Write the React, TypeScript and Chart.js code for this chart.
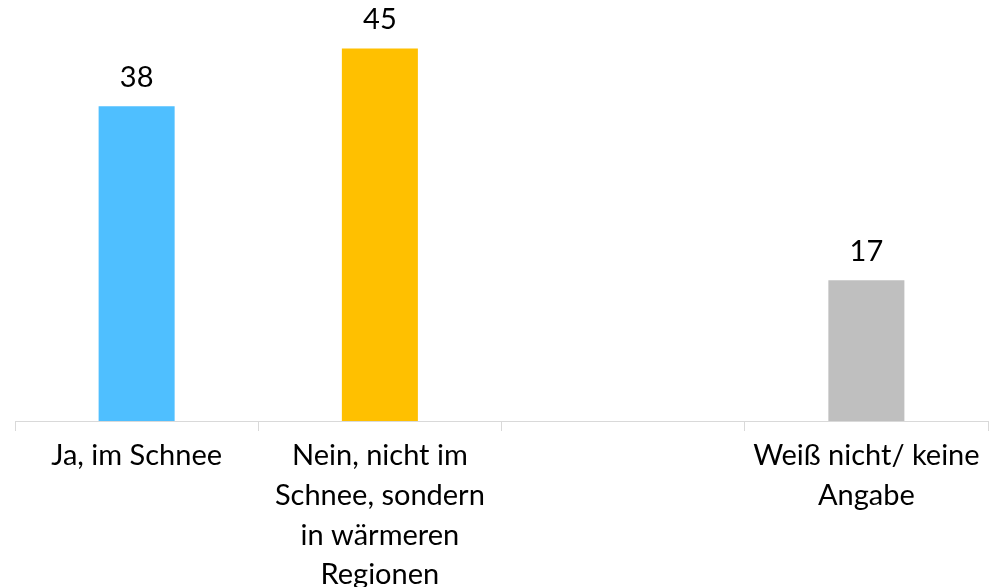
import React, { useEffect, useRef } from "react";
import { Chart, registerables } from "chart.js";

Chart.register(...registerables);

const categories: (string | string[])[] = [
  ["Ja, im Schnee"],
  ["Nein, nicht im", "Schnee, sondern", "in wärmeren", "Regionen"],
  "",
  ["Weiß nicht/ keine", "Angabe"],
];
const values: (number | null)[] = [38, 45, null, 17];
const barColors = ["#4FBFFF", "#FFC000", "#FFFFFF", "#BFBFBF"];
const yMin = 0;
const yMax = 50;

const FONT_FAMILY = "Lato, 'Open Sans', sans-serif";
const FONT_SIZE = 29;

const valueLabels = {
  id: "valueLabels",
  afterDatasetsDraw(chart: any) {
    const ctx = chart.ctx;
    const meta = chart.getDatasetMeta(0);
    ctx.save();
    ctx.font = `${FONT_SIZE}px ${FONT_FAMILY}`;
    ctx.fillStyle = "#000000";
    ctx.textAlign = "center";
    ctx.textBaseline = "alphabetic";
    meta.data.forEach((el: any, i: number) => {
      const v = values[i];
      if (v === null || v === undefined) return;
      ctx.fillText(String(v), el.x, el.y - 19);
    });
    ctx.restore();
  },
};

export default function App() {
  const ref = useRef<HTMLCanvasElement | null>(null);
  useEffect(() => {
    document.body.style.margin = "0";
    if (!ref.current) return;
    const chart = new Chart(ref.current, {
      type: "bar",
      data: {
        labels: categories,
        datasets: [
          {
            data: values,
            backgroundColor: barColors,
            borderWidth: 0,
            barPercentage: 0.3125,
            categoryPercentage: 1,
          },
        ],
      },
      options: {
        animation: false,
        responsive: true,
        maintainAspectRatio: false,
        layout: { padding: { left: 15, right: 1, top: 7, bottom: 0 } },
        plugins: {
          legend: { display: false },
          tooltip: { enabled: false },
          title: { display: false },
        },
        scales: {
          x: {
            offset: true,
            grid: {
              offset: true,
              drawOnChartArea: false,
              drawTicks: true,
              tickLength: 10,
              color: "#D9D9D9",
              lineWidth: 1,
            },
            border: { display: true, color: "#D9D9D9", width: 1 },
            ticks: {
              autoSkip: false,
              maxRotation: 0,
              minRotation: 0,
              padding: 5,
              color: "#000000",
              font: { family: FONT_FAMILY, size: FONT_SIZE, lineHeight: 1.37 },
            },
            afterFit: (scale: any) => {
              scale.height = 166;
            },
          },
          y: {
            display: false,
            min: yMin,
            max: yMax,
          },
        },
      },
      plugins: [valueLabels],
    });
    return () => chart.destroy();
  }, []);
  return (
    <div style={{ position: "relative", width: 989, height: 587 }}>
      <canvas ref={ref} />
    </div>
  );
}
